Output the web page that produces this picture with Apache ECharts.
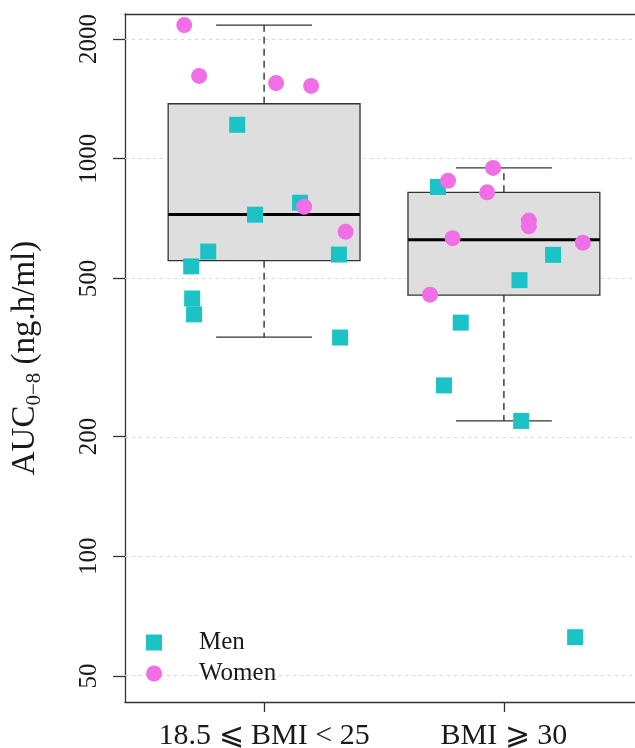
<!DOCTYPE html>
<html><head><meta charset="utf-8">
<script src="https://cdn.jsdelivr.net/npm/echarts@6/dist/echarts.min.js"></script>
<style>html,body{margin:0;padding:0;background:#fff;overflow:hidden}#c{width:635px;height:748px}</style>
</head><body><div id="c"></div>
<script>
// ---- data ----
const categories = ['18.5 ⩽ BMI < 25', 'BMI ⩾ 30'];
const categoryPos = [1, 2];
const yTicks = [50, 100, 200, 500, 1000, 2000];
const yRange = [43, 2312];
// box statistics: [lower whisker, Q1, median, Q3, upper whisker]
const boxLow   = [356, 219];
const boxQ1    = [554, 454];
const boxMed   = [724, 625];
const boxQ3    = [1375, 823];
const boxHigh  = [2168, 948];
// Men (jittered x position, AUC value)
const menX = [0.888, 0.962, 1.150, 0.767, 0.696, 0.700, 0.708, 1.312, 1.317,
              1.725, 2.205, 2.065, 1.820, 1.750, 2.072, 2.297];
const menY = [1217, 723, 775, 584, 536, 445, 406, 574, 355,
              849, 573, 495, 387, 269, 219, 62.6];
// Women
const womenX = [0.667, 0.729, 1.050, 1.196, 1.167, 1.340,
                1.767, 1.955, 1.930, 2.104, 2.104, 1.786, 2.329, 1.692];
const womenY = [2168, 1615, 1550, 1524, 757, 655,
                880, 948, 823, 699, 676, 631, 615, 455];

// ---- chart ----
const L = Math.log10;
const FONT = 'Liberation Serif';
const MEN_COLOR = '#1BC3C6';
const WOMEN_COLOR = '#F06EE6';
const FRAME = {show: true, lineStyle: {color: '#333', width: 1.3}};

const boxData = categoryPos.map((x, i) => [x, L(boxLow[i]), L(boxQ1[i]), L(boxMed[i]), L(boxQ3[i]), L(boxHigh[i])]);
const menData = menX.map((x, i) => [x, L(menY[i])]);
const womenData = womenX.map((x, i) => [x, L(womenY[i])]);
const tickLog = yTicks.map(v => L(v));

const chart = echarts.init(document.getElementById('c'), null, {renderer: 'canvas'});
chart.setOption({
  animation: false,
  backgroundColor: '#fff',
  grid: {left: 125, width: 518, top: 14, height: 688, containLabel: false, outerBoundsMode: 'none', show: false},
  legend: {
    orient: 'vertical', left: 146, top: 630, padding: 0, itemGap: 6,
    itemWidth: 16, itemHeight: 16,
    data: [{name: 'Men', icon: 'rect'}, {name: 'Women', icon: 'circle'}],
    textStyle: {fontFamily: FONT, fontSize: 25, color: '#1a1a1a', padding: [0, 0, 0, 32]}
  },
  xAxis: [{
    type: 'value', min: 0.42, max: 2.58, position: 'bottom',
    axisLine: FRAME,
    splitLine: {show: false},
    axisTick: {show: true, customValues: categoryPos, length: 10, lineStyle: {color: '#333', width: 1.3}},
    axisLabel: {
      customValues: categoryPos, margin: 19,
      formatter: v => categories[Math.round(v) - 1] || '',
      fontFamily: FONT, fontSize: 30, color: '#1a1a1a'
    }
  }, {
    type: 'value', min: 0.42, max: 2.58, position: 'top',
    axisLine: FRAME, axisTick: {show: false}, axisLabel: {show: false}, splitLine: {show: false}
  }],
  yAxis: {
    type: 'value', min: L(yRange[0]), max: L(yRange[1]), position: 'left',
    axisLine: FRAME,
    splitLine: {show: false},
    axisTick: {show: true, customValues: tickLog, length: 12, lineStyle: {color: '#333', width: 1.3}},
    axisLabel: {
      customValues: tickLog, rotate: 90, margin: 23,
      formatter: v => String(Math.round(Math.pow(10, v))),
      fontFamily: FONT, fontSize: 25, color: '#1a1a1a'
    },
    name: '{a|AUC}{s|0−8}{a| (ng.h/ml)}',
    nameLocation: 'middle', nameGap: 80, nameRotate: 90,
    nameTextStyle: {
      rich: {
        a: {fontFamily: FONT, fontSize: 33, color: '#1a1a1a', lineHeight: 40},
        s: {fontFamily: FONT, fontSize: 21, color: '#1a1a1a', lineHeight: 40, verticalAlign: 'bottom'}
      }
    }
  },
  series: [
    {
      name: 'gridlines', type: 'scatter', data: [], silent: true, z: 1,
      markLine: {
        silent: true, symbol: 'none', z: 1, animation: false,
        label: {show: false},
        lineStyle: {color: '#d8d8d8', width: 1, type: [3, 4]},
        data: tickLog.map(v => ({yAxis: v}))
      }
    },
    {
      name: 'box', type: 'custom', z: 2, silent: true,
      data: boxData,
      encode: {x: 0, y: [1, 2, 3, 4, 5]},
      renderItem: function (params, api) {
        const x = api.value(0);
        const cx = api.coord([x, api.value(3)])[0];
        const yLo = api.coord([x, api.value(1)])[1];
        const yQ1 = api.coord([x, api.value(2)])[1];
        const yMd = api.coord([x, api.value(3)])[1];
        const yQ3 = api.coord([x, api.value(4)])[1];
        const yHi = api.coord([x, api.value(5)])[1];
        const half = api.size([0.4, 0])[0];
        const cap = half / 2;
        const solid = {stroke: '#333', lineWidth: 1.3};
        const dashed = {stroke: '#222', lineWidth: 1.3, lineDash: [7, 5]};
        return {type: 'group', children: [
          {type: 'line', shape: {x1: cx, y1: yQ3, x2: cx, y2: yHi}, style: dashed},
          {type: 'line', shape: {x1: cx, y1: yQ1, x2: cx, y2: yLo}, style: dashed},
          {type: 'line', shape: {x1: cx - cap, y1: yHi, x2: cx + cap, y2: yHi}, style: solid},
          {type: 'line', shape: {x1: cx - cap, y1: yLo, x2: cx + cap, y2: yLo}, style: solid},
          {type: 'rect', shape: {x: cx - half, y: yQ3, width: 2 * half, height: yQ1 - yQ3}, style: {fill: '#DEDEDE', stroke: '#333', lineWidth: 1.3}},
          {type: 'line', shape: {x1: cx - half, y1: yMd, x2: cx + half, y2: yMd}, style: {stroke: '#000', lineWidth: 3}}
        ]};
      }
    },
    {
      name: 'Men', type: 'scatter', z: 3, symbol: 'rect', symbolSize: 16,
      itemStyle: {color: MEN_COLOR, opacity: 1}, data: menData
    },
    {
      name: 'Women', type: 'scatter', z: 3, symbol: 'circle', symbolSize: 16,
      itemStyle: {color: WOMEN_COLOR, opacity: 1}, data: womenData
    }
  ]
});
</script>
</body></html>
